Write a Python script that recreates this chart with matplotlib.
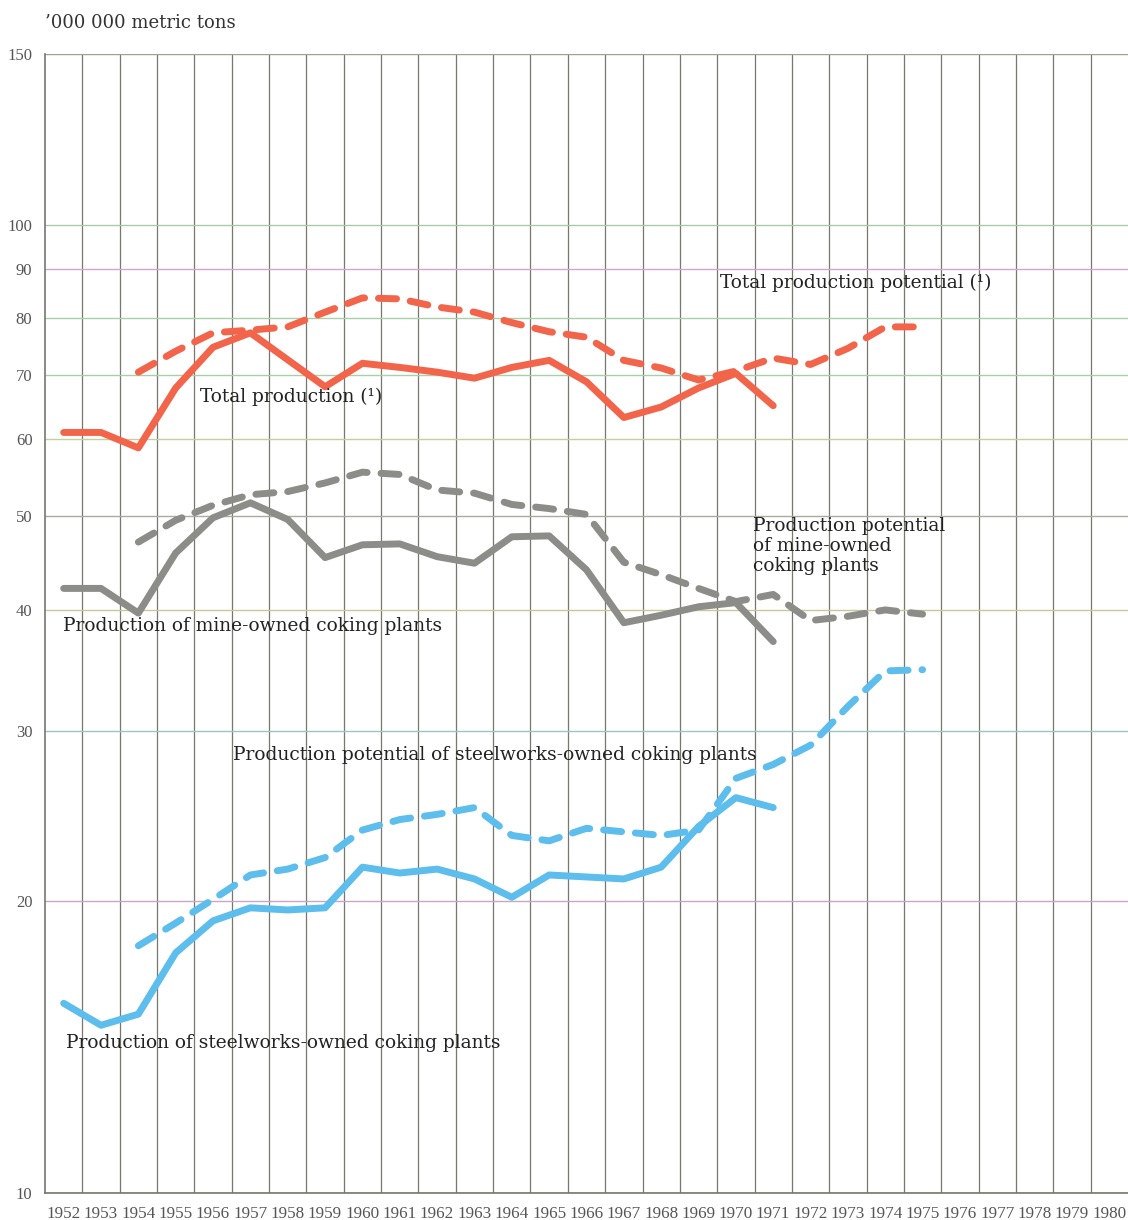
import numpy as np
from matplotlib import pyplot as plt
from matplotlib.ticker import FixedLocator, NullFormatter

# years
years_prod = list(range(1952, 1972))
years_pot = list(range(1954, 1976))
year_labels = list(range(1952, 1981))

# '000 000 metric tons
total_prod = [61.0, 61.0, 58.8, 67.8, 74.7, 77.3, 72.5, 68.0, 71.9, 71.2,
              70.4, 69.4, 71.2, 72.4, 68.8, 63.2, 64.8, 67.8, 70.2, 65.0]
total_pot = [70.4, 74.0, 77.3, 77.8, 78.4, 81.2, 84.0, 83.8, 82.2, 81.2, 79.2,
             77.5, 76.5, 72.4, 71.1, 69.1, 70.6, 72.8, 71.7, 74.5, 78.4, 78.4]
mine_prod = [42.1, 42.1, 39.7, 45.8, 49.8, 51.6, 49.6, 45.3, 46.7, 46.8,
             45.4, 44.7, 47.6, 47.7, 44.0, 38.8, 39.5, 40.3, 40.7, 37.1]
mine_pot = [47.0, 49.5, 51.3, 52.6, 53.0, 54.1, 55.5, 55.2, 53.2, 52.8, 51.4,
            50.9, 50.2, 44.8, 43.5, 42.1, 40.8, 41.5, 39.0, 39.4, 40.0, 39.6]
steel_prod = [15.7, 14.9, 15.3, 17.7, 19.1, 19.7, 19.6, 19.7, 21.7, 21.4,
              21.6, 21.1, 20.2, 21.3, 21.2, 21.1, 21.7, 23.9, 25.6, 25.0]
steel_pot = [18.0, 19.0, 20.1, 21.3, 21.6, 22.2, 23.7, 24.3, 24.6, 25.0, 23.4,
             23.1, 23.8, 23.6, 23.4, 23.7, 26.8, 27.7, 29.0, 31.8, 34.6, 34.7]

y_ticks = [10, 20, 30, 40, 50, 60, 70, 80, 90, 100, 150]
# colour of each horizontal rule, as printed
hline_colors = ['#8a8a80', '#c9a6c9', '#9cc6bf', '#c7c79a', '#a9aba0',
                '#c6cf9c', '#a9cfa9', '#a9cfa9', '#d2a8c8', '#a9c9a9', '#9aa392']

red = '#f2654b'
grey = '#8c8c88'
blue = '#5dbdec'

plt.rcParams['font.family'] = ['Liberation Serif', 'DejaVu Serif']
label_font = ['DejaVu Serif', 'Liberation Serif']

fig = plt.figure(figsize=(11.28, 12.2), dpi=100)
ax = fig.add_axes([45 / 1128, 27 / 1220, 1 - 45 / 1128, (1193 - 54) / 1220])
ax.set_yscale('log')
ax.set_ylim(10, 150)
ax.set_xlim(1951.5, 1980.5)

# grid: vertical rules between years, coloured horizontal rules
for x in np.arange(1952.5, 1980.5, 1.0):
    ax.axvline(x, color='#77776f', lw=0.9, zorder=1)
for v, c in zip(y_ticks, hline_colors):
    ax.axhline(v, color=c, lw=1.0, zorder=1)

ax.yaxis.set_major_locator(FixedLocator(y_ticks))
ax.yaxis.set_minor_locator(FixedLocator([]))
ax.yaxis.set_minor_formatter(NullFormatter())
ax.set_yticklabels([str(v) for v in y_ticks])
ax.set_xticks(year_labels)
ax.set_xticklabels([str(y) for y in year_labels])
ax.tick_params(axis='both', length=0, colors='#555555')
ax.tick_params(axis='y', pad=9, labelsize=12)
ax.tick_params(axis='x', pad=9, labelsize=12.3)

for s in ['top', 'right']:
    ax.spines[s].set_visible(False)
for s in ['left', 'bottom']:
    ax.spines[s].set_color('#77776f')
    ax.spines[s].set_linewidth(1.2)

lw = 5
kw_solid = dict(lw=lw, solid_capstyle='round', solid_joinstyle='round', zorder=3)
kw_dash = dict(lw=lw, dashes=(2.6, 2.0), dash_capstyle='round', zorder=3)

ax.plot(years_prod, total_prod, color=red, **kw_solid)
ax.plot(years_pot, total_pot, color=red, **kw_dash)
ax.plot(years_prod, mine_prod, color=grey, **kw_solid)
ax.plot(years_pot, mine_pot, color=grey, **kw_dash)
ax.plot(years_prod, steel_prod, color=blue, **kw_solid)
ax.plot(years_pot, steel_pot, color=blue, **kw_dash)

txt = dict(fontsize=13.4, color='#222222', zorder=4, family=label_font)
ax.text(1969.58, 87.0, 'Total production potential (\u00b9)', va='center', **txt)
ax.text(1955.65, 66.4, 'Total production (\u00b9)', va='center', **txt)
ax.text(1951.98, 38.5, 'Production of mine-owned coking plants', va='center', **txt)
ax.text(1970.46, 46.6, 'Production potential\nof mine-owned\ncoking plants',
        va='center', linespacing=1.15, **txt)
ax.text(1956.53, 28.3, 'Production potential of steelworks-owned coking plants',
        va='center', **txt)
ax.text(1952.06, 14.3, 'Production of steelworks-owned coking plants',
        va='center', **txt)

fig.text(45 / 1128, 1 - 23 / 1220, "\u2019000 000 metric tons", fontsize=13,
         color='#333333', va='center', family=label_font)

fig.savefig('out.png', dpi=100)
